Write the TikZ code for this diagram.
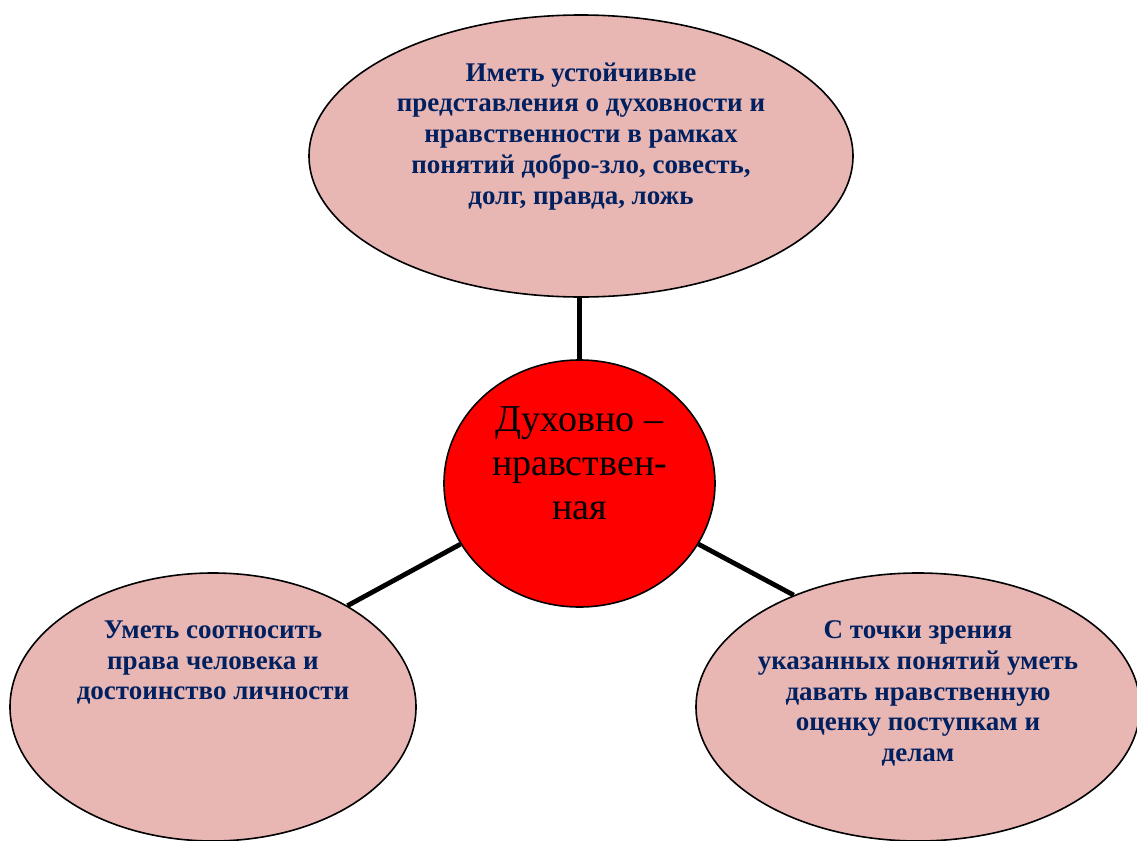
\documentclass[tikz,border=0pt]{standalone}
\usepackage{fontspec}
\setmainfont{Liberation Serif}
\usetikzlibrary{shapes.geometric}
\usetikzlibrary{positioning}
\definecolor{rosefill}{RGB}{232,183,180}
\definecolor{navytext}{RGB}{0,32,96}

\begin{document}
\begin{tikzpicture}[x=0.5pt, y=-0.5pt,
        bubble/.style={ellipse, draw=black, line width=0.8pt, fill=rosefill, inner sep=0pt},
        say/.style={inner sep=0pt, align=center, text=navytext, font=\fontsize{13.5}{15.4}\selectfont\bfseries},
        link/.style={line width=2.4pt}]
        \useasboundingbox (0,0) rectangle (1137,841);

        \node[bubble, minimum width=272pt, minimum height=141pt] (ideas) at (581,156) {};
        \node[ellipse, draw=black, line width=0.8pt, fill=red, inner sep=0pt, minimum width=135.5pt, minimum height=123.5pt] (hub) at (579.5,483.5) {};
        \node[bubble, minimum width=203pt, minimum height=134pt] (rights) at (213,707) {};
        \node[bubble, minimum width=222pt, minimum height=134pt] (judge) at (918,707) {};

        \node[say, below=24pt of ideas.north] (ideastext) {Иметь устойчивые\\представления о духовности и\\нравственности в рамках\\понятий добро-зло, совесть,\\долг, правда, ложь};
        \node[inner sep=0pt, align=center, font=\fontsize{19}{22}\selectfont, below=23.5pt of hub.north] (hubtext) {Духовно –\\нравствен-\\ная};
        \node[say, below=24pt of rights.north] (rightstext) {Уметь соотносить\\права человека и\\достоинство личности};
        \node[say, below=24pt of judge.north] (judgetext) {С точки зрения\\указанных понятий уметь\\давать нравственную\\оценку поступкам и\\делам};

        \draw[link] (hub.north) -- (hub.north |- ideas.south);
        \draw[link] (hub.207.6) -- (rights.37.7);
        \draw[link] (hub.333.1) -- (judge.138.2);
    \end{tikzpicture}
\end{document}
